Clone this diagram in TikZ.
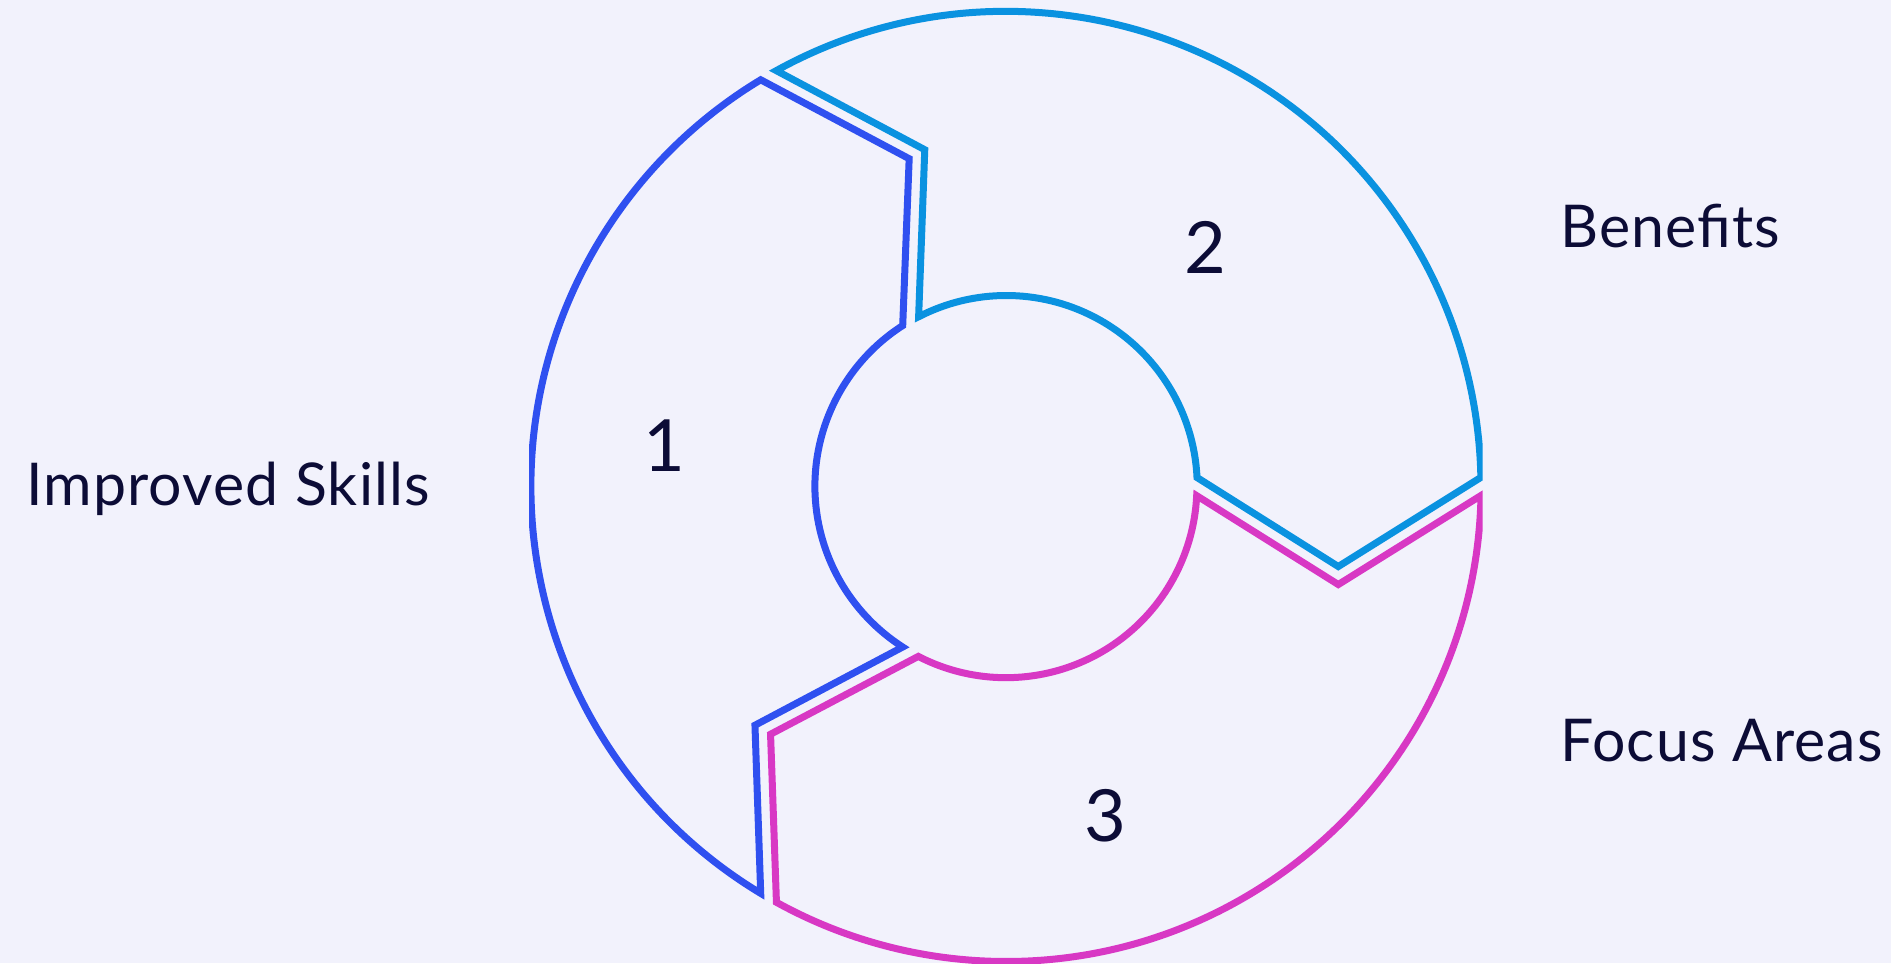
\documentclass[tikz,border=0pt]{standalone}
\usepackage{fontspec}
\setmainfont{Lato}
\usetikzlibrary{calc}
\definecolor{bgc}{HTML}{F2F2FC}
\definecolor{segblue}{HTML}{2F50F0}
\definecolor{segcyan}{HTML}{0A92E0}
\definecolor{segmag}{HTML}{D838C4}
\definecolor{txt}{HTML}{0C0C36}
\tikzset{
  segline/.style={line width=7bp, line join=miter},
  lbl/.style={text=txt, inner sep=0pt, font=\fontsize{59bp}{70bp}\selectfont\addfontfeature{LetterSpace=2}, anchor=base west},
  num/.style={text=txt, inner sep=0pt, font=\fontsize{72bp}{86bp}\selectfont, anchor=center}
}
\begin{document}
\begin{tikzpicture}[x=1bp,y=1bp]
\fill[bgc] (0,0) rectangle (1891,963);
\useasboundingbox (0,0) rectangle (1891,963);
\coordinate (C) at (1006,476.5);
\begin{scope}
\clip (529,0) rectangle (1482.5,963);
% segment 1 (left)
\draw[segline, segblue] ($(C)+(240:475)+(150:9)$) arc[start angle=238.915, end angle=121.085, radius=475]
  -- ($(C)+(105:344)+(210:9)$) -- ($(C)+(120:191)+(210:9)$)
  arc[start angle=122.70, end angle=237.30, radius=191]
  -- ($(C)+(225:344)+(150:9)$) -- cycle;
% segment 2 (top right)
\draw[segline, segcyan] ($(C)+(120:475)+(30:9)$) arc[start angle=118.915, end angle=1.085, radius=475]
  -- ($(C)+(-15:344)+(90:9)$) -- ($(C)+(0:191)+(90:9)$)
  arc[start angle=2.70, end angle=117.30, radius=191]
  -- ($(C)+(105:344)+(30:9)$) -- cycle;
% segment 3 (bottom)
\draw[segline, segmag] ($(C)+(0:475)+(-90:9)$) arc[start angle=-1.085, end angle=-118.915, radius=475]
  -- ($(C)+(-135:344)+(-30:9)$) -- ($(C)+(-120:191)+(-30:9)$)
  arc[start angle=-117.30, end angle=-2.70, radius=191]
  -- ($(C)+(-15:344)+(-90:9)$) -- cycle;
\end{scope}
\node[num] (n1) at (664,517) {1};
\node[num] (n2) at (1205,716) {2};
\node[num] (n3) at (1105,147) {3};
\node[lbl] (l1) at (26,457) {Improved Skills};
\node[lbl] (l2) at (1560,715) {Benefits};
\node[lbl] (l3) at (1560,201) {Focus Areas};
\end{tikzpicture}
\end{document}
